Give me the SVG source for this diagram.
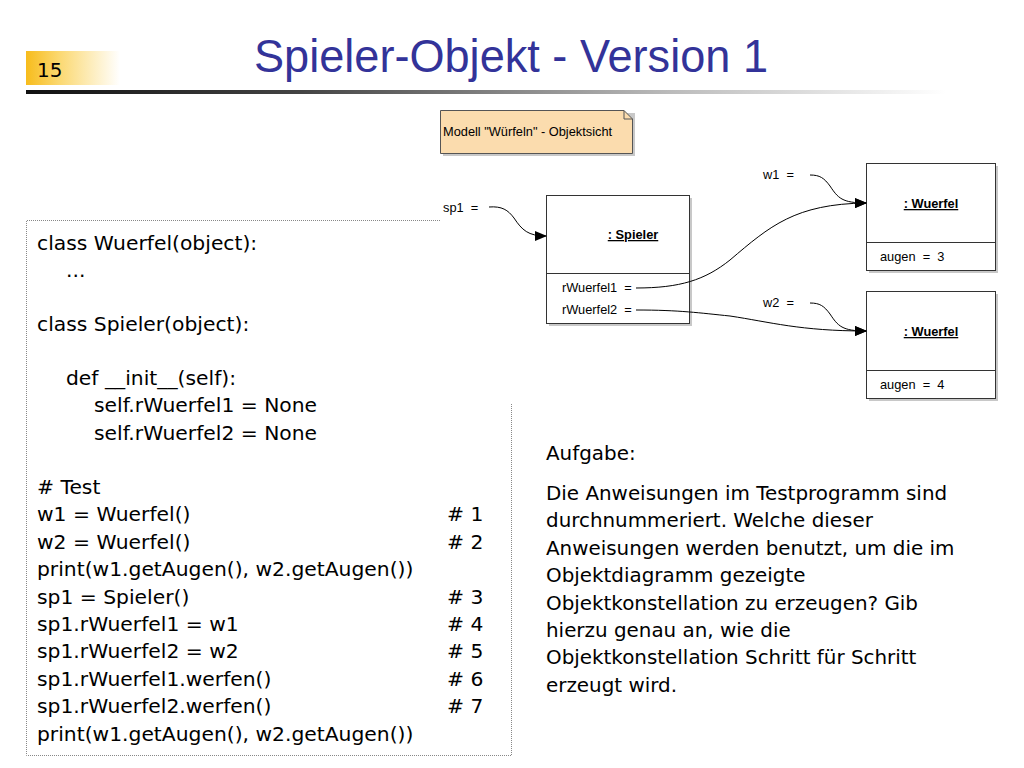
<svg xmlns="http://www.w3.org/2000/svg" width="1024" height="768" viewBox="0 0 1024 768">
<defs>
<linearGradient id="numGrad" x1="0" y1="0" x2="1" y2="0">
<stop offset="0" stop-color="#f7bc1c"/>
<stop offset="0.35" stop-color="#fbd870"/>
<stop offset="1" stop-color="#ffffff"/>
</linearGradient>
<linearGradient id="lineGrad" x1="0" y1="0" x2="1" y2="0">
<stop offset="0" stop-color="#111111"/>
<stop offset="0.3" stop-color="#444444"/>
<stop offset="0.7" stop-color="#bbbbbb"/>
<stop offset="1" stop-color="#ffffff"/>
</linearGradient>
<marker id="arrow" markerWidth="12" markerHeight="10" refX="11" refY="5" orient="auto" markerUnits="userSpaceOnUse">
<path d="M0,0 L12,5 L0,10 Z" fill="#000"/>
</marker>
</defs>
<style>
.title{font-family:"Liberation Sans",Arial,sans-serif;font-size:47px;fill:#333399}
.code{font-family:"DejaVu Sans","Liberation Sans",sans-serif;font-size:20.3px;fill:#000}
.para{font-family:"DejaVu Sans","Liberation Sans",sans-serif;font-size:19.9px;fill:#000}
.small{font-family:"Liberation Sans",Arial,sans-serif;font-size:12.8px;fill:#000;white-space:pre}
.bold{font-family:"Liberation Sans",Arial,sans-serif;font-size:12.8px;font-weight:bold;fill:#000;text-decoration:underline}
.box{fill:#fff;stroke:#333;stroke-width:1}
.shadow{fill:#c8c8c8}
.conn{fill:none;stroke:#000;stroke-width:1}
.dot{fill:none;stroke:#888;stroke-width:1;stroke-dasharray:1,1}
</style>
<rect width="1024" height="768" fill="#fff"/>
<g id="header">
<rect x="26" y="51" width="94" height="34" fill="url(#numGrad)"/>
<text x="37" y="77" font-family="DejaVu Sans,sans-serif" font-size="20" fill="#000">15</text>
<rect x="26" y="90" width="920" height="4" fill="url(#lineGrad)"/>
<text class="title" x="254" y="72" textLength="514" lengthAdjust="spacingAndGlyphs">Spieler-Objekt - Version 1</text>
</g>
<g id="codebox">
<path class="dot" d="M440,220.5 H26.5 V755.5 H511.5 V403"/>
<text class="code" x="37" y="250">class Wuerfel(object):</text>
<text class="code" x="66" y="277">...</text>
<text class="code" x="37" y="331">class Spieler(object):</text>
<text class="code" x="66" y="385">def __init__(self):</text>
<text class="code" x="94" y="412">self.rWuerfel1 = None</text>
<text class="code" x="94" y="440">self.rWuerfel2 = None</text>
<text class="code">
<tspan x="37" y="494"># Test</tspan>
<tspan x="37" y="521.4">w1 = Wuerfel()</tspan>
<tspan x="37" y="548.8">w2 = Wuerfel()</tspan>
<tspan x="37" y="576.2">print(w1.getAugen(), w2.getAugen())</tspan>
<tspan x="37" y="603.6">sp1 = Spieler()</tspan>
<tspan x="37" y="631">sp1.rWuerfel1 = w1</tspan>
<tspan x="37" y="658.4">sp1.rWuerfel2 = w2</tspan>
<tspan x="37" y="685.8">sp1.rWuerfel1.werfen()</tspan>
<tspan x="37" y="713.2">sp1.rWuerfel2.werfen()</tspan>
<tspan x="37" y="740.6">print(w1.getAugen(), w2.getAugen())</tspan>
</text>
<text class="code">
<tspan x="447" y="521.4"># 1</tspan>
<tspan x="447" y="548.8"># 2</tspan>
<tspan x="447" y="603.6"># 3</tspan>
<tspan x="447" y="631"># 4</tspan>
<tspan x="447" y="658.4"># 5</tspan>
<tspan x="447" y="685.8"># 6</tspan>
<tspan x="447" y="713.2"># 7</tspan>
</text>
</g>
<g id="note">
<path d="M443,113 H635 V156 H443 Z" class="shadow"/>
<path d="M440.5,110.5 H624 L632.5,119 V153.5 H440.5 Z" fill="#fbdcae" stroke="#555" stroke-width="1"/>
<path d="M624,110.5 V119 H632.5" fill="none" stroke="#555" stroke-width="1"/>
<text class="small" x="443" y="136">Modell "Würfeln" - Objektsicht</text>
</g>
<g id="labels">
<text class="small" x="443" y="212">sp1  =</text>
<text class="small" x="763" y="179">w1  =</text>
<text class="small" x="763" y="307">w2  =</text>
</g>
<g id="spieler">
<rect class="shadow" x="549" y="198" width="143" height="128"/>
<rect class="box" x="546.5" y="195.5" width="143" height="128"/>
<line x1="546.5" y1="273.5" x2="689.5" y2="273.5" stroke="#333"/>
<text class="bold" x="633" y="239" text-anchor="middle">: Spieler</text>
<text class="small" x="562" y="292">rWuerfel1  =</text>
<text class="small" x="562" y="314">rWuerfel2  =</text>
</g>
<g id="wuerfel1">
<rect class="shadow" x="869" y="166" width="129" height="107"/>
<rect class="box" x="866.5" y="163.5" width="129" height="107"/>
<line x1="866.5" y1="242.5" x2="995.5" y2="242.5" stroke="#333"/>
<text class="bold" x="931" y="208" text-anchor="middle">: Wuerfel</text>
<text class="small" x="880" y="261">augen  =  3</text>
</g>
<g id="wuerfel2">
<rect class="shadow" x="869" y="294" width="129" height="107"/>
<rect class="box" x="866.5" y="291.5" width="129" height="107"/>
<line x1="866.5" y1="370.5" x2="995.5" y2="370.5" stroke="#333"/>
<text class="bold" x="931" y="336" text-anchor="middle">: Wuerfel</text>
<text class="small" x="880" y="389">augen  =  4</text>
</g>
<g id="connectors">
<path class="conn" d="M489,207 C502,206 508,210 514,218 C522,230 528,236 546,236" marker-end="url(#arrow)"/>
<path class="conn" d="M810,175 C820,175 824,178 830,186 C838,198 842,203 866,203" marker-end="url(#arrow)"/>
<path class="conn" d="M810,303 C820,303 824,306 830,314 C838,326 842,331 866,331" marker-end="url(#arrow)"/>
<path class="conn" d="M636,288 C680,288 705,280 730,260 C770,226 795,204 866,203" marker-end="url(#arrow)"/>
<path class="conn" d="M636,310 C680,310 700,313 730,316 C770,322 800,331 866,331" marker-end="url(#arrow)"/>
</g>
<g id="task">
<text class="para" x="546" y="460">Aufgabe:</text>
<text class="para">
<tspan x="546" y="500">Die Anweisungen im Testprogramm sind</tspan>
<tspan x="546" y="527.4">durchnummeriert. Welche dieser</tspan>
<tspan x="546" y="554.8">Anweisungen werden benutzt, um die im</tspan>
<tspan x="546" y="582.2">Objektdiagramm gezeigte</tspan>
<tspan x="546" y="609.6">Objektkonstellation zu erzeugen? Gib</tspan>
<tspan x="546" y="637">hierzu genau an, wie die</tspan>
<tspan x="546" y="664.4">Objektkonstellation Schritt für Schritt</tspan>
<tspan x="546" y="691.8">erzeugt wird.</tspan>
</text>
</g>
</svg>
